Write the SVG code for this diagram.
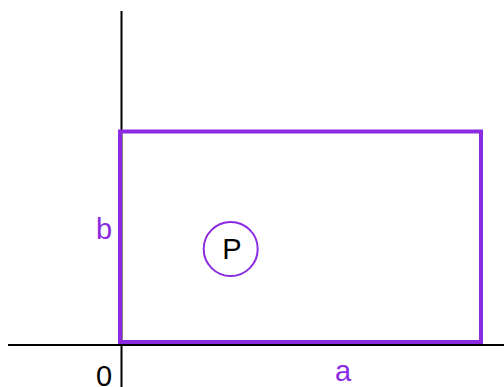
<svg xmlns="http://www.w3.org/2000/svg" width="504" height="387" viewBox="0 0 504 387">
<style>
.axis{stroke:#000;stroke-width:2;fill:none}
.lbl{font-family:"Liberation Sans",Arial,sans-serif;font-size:29px;text-anchor:middle}
.purple{fill:#8a2be2}
</style>
<rect width="504" height="387" fill="#fff"/>
<g id="axes">
<line class="axis" x1="121.5" y1="11" x2="121.5" y2="387"/>
<line class="axis" x1="8" y1="345" x2="504" y2="345"/>
</g>
<g id="rect">
<rect x="120" y="131.5" width="361" height="210.5" fill="none" stroke="#8a2be2" stroke-width="4"/>
</g>
<g id="P">
<circle cx="230.7" cy="249" r="27" fill="none" stroke="#8a2be2" stroke-width="2"/>
<text class="lbl" x="232" y="259">P</text>
</g>
<text class="lbl purple" x="104" y="239">b</text>
<text class="lbl purple" x="343" y="381">a</text>
<text class="lbl" x="104" y="386">0</text>
</svg>
